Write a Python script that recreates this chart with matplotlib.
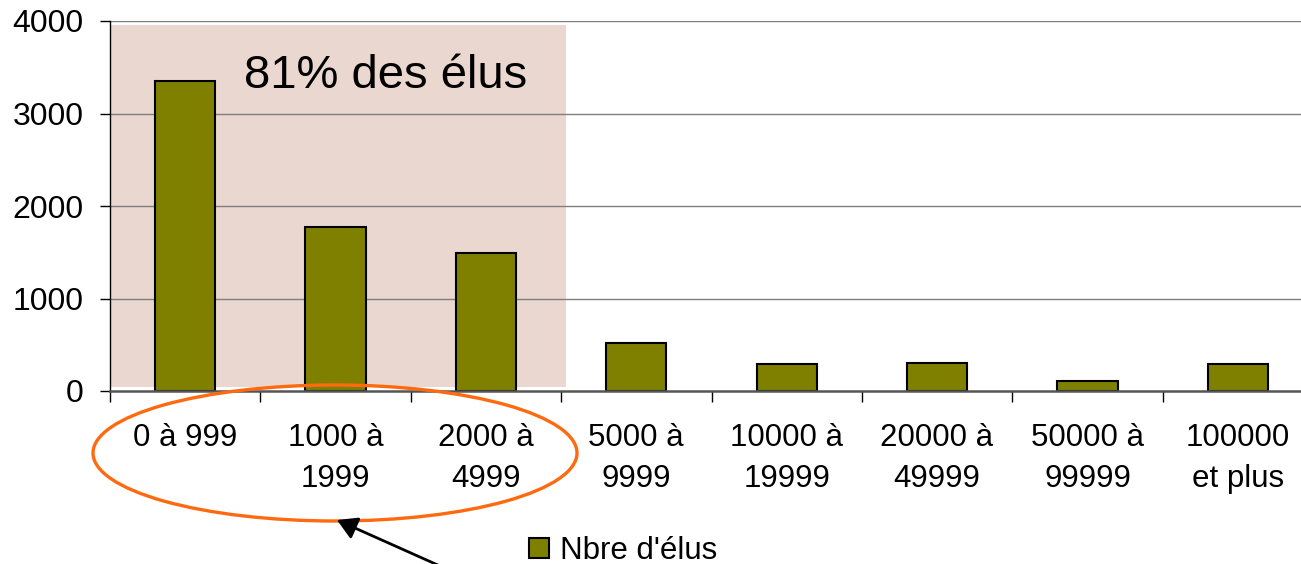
import matplotlib
matplotlib.use("Agg")
import matplotlib.pyplot as plt
from matplotlib.patches import Rectangle, Ellipse, FancyArrowPatch

plt.rcParams['font.family'] = ['Liberation Sans', 'DejaVu Sans']

categories = ["0 à 999", "1000 à\n1999", "2000 à\n4999", "5000 à\n9999",
              "10000 à\n19999", "20000 à\n49999", "50000 à\n99999", "100000\net plus"]
values = [3350, 1775, 1490, 522, 289, 306, 111, 289]
series_name = "Nbre d'élus"
annotation = "81% des élus"
yticks = [0, 1000, 2000, 3000, 4000]

W, H = 1301, 564
fig = plt.figure(figsize=(W / 100, H / 100), dpi=100)
ax = fig.add_axes([110 / W, (H - 391) / H, 1203 / W, 370 / H])

x = list(range(len(categories)))
ax.set_xlim(-0.5, len(categories) - 0.5)
ax.set_ylim(0, 4000)

# shaded highlight region
ax.add_patch(Rectangle((-0.5, 40), 3.03, 3915, facecolor='#EAD7CF',
                       edgecolor='none', zorder=0))

for yv in yticks[1:]:
    ax.axhline(yv, color='#7f7f7f', lw=1.0, zorder=1)

bars = ax.bar(x, values, width=0.4, color='#808000', edgecolor='black',
              linewidth=1.5, zorder=3, label=series_name)

ax.text(1.335, 3400, annotation, fontsize=34, ha='center', va='center', zorder=4)

for s in ['top', 'right']:
    ax.spines[s].set_visible(False)
ax.spines['left'].set_color('black')
ax.spines['left'].set_linewidth(1.0)
ax.spines['bottom'].set_color('#555555')
ax.spines['bottom'].set_linewidth(1.8)
ax.spines['bottom'].set_zorder(5)

ax.set_yticks(yticks)
ax.set_yticklabels([str(v) for v in yticks], fontsize=23)
ax.tick_params(axis='y', direction='out', length=7, width=1, pad=12, color='black')

ax.set_xticks(x)
ax.set_xticklabels(categories, fontsize=22.5, linespacing=1.5)
ax.tick_params(axis='x', which='major', length=0, pad=23)
ax.set_xticks([i - 0.5 for i in range(len(categories) + 1)], minor=True)
ax.tick_params(axis='x', which='minor', direction='out', length=8, width=1, color='black')

# orange ellipse around first three categories (figure coordinates)
ell = Ellipse((335 / W, 1 - 453 / H), 484 / W, 136 / H, transform=fig.transFigure,
              fill=False, edgecolor='#FF6A10', lw=2.4, clip_on=False)
fig.add_artist(ell)

arrow = FancyArrowPatch((440 / W, 1 - 566 / H), (337 / W, 1 - 520 / H),
                        transform=fig.transFigure, arrowstyle='-|>,head_length=0.6,head_width=0.35',
                        mutation_scale=20, color='black', lw=2, clip_on=False,
                        shrinkA=0, shrinkB=0)
fig.add_artist(arrow)

leg = fig.legend(handles=[bars], labels=[series_name], loc='center left',
                 bbox_to_anchor=(529 / W, 1 - 551 / H), frameon=False, fontsize=22.5,
                 handlelength=0.65, handleheight=0.65, handletextpad=0.35,
                 borderaxespad=0, borderpad=0)

fig.savefig("out.png", dpi=100)
